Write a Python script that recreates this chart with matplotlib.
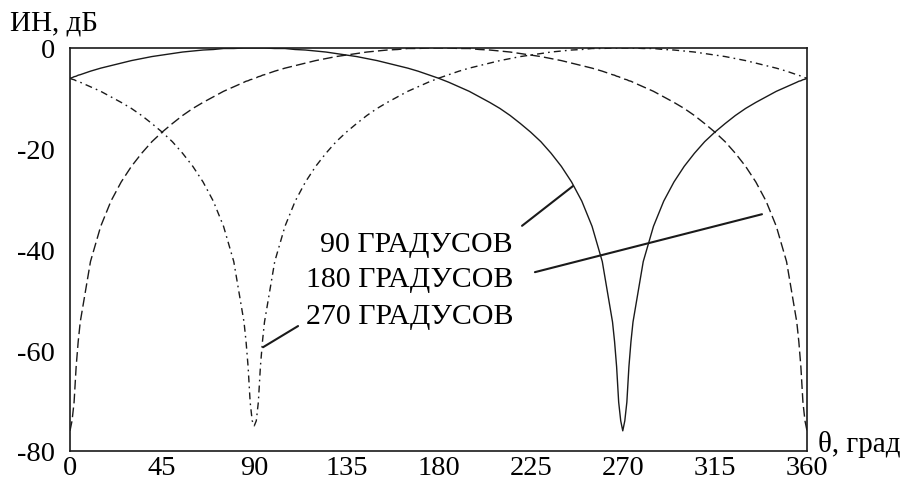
import matplotlib
matplotlib.use("Agg")
import matplotlib.pyplot as plt

plt.rcParams['font.family'] = ['Liberation Serif', 'DejaVu Serif']
plt.rcParams['axes.unicode_minus'] = False

# angle grid, degrees (denser near the nulls)
theta = [0, 1, 2, 3, 4, 5, 10, 15, 20, 25, 30, 35, 40, 45, 50, 55, 60, 65, 70, 75,
         80, 85, 86, 87, 88, 89, 90, 91, 92, 93, 94, 95, 100, 105, 110, 115, 120,
         125, 130, 135, 140, 145, 150, 155, 160, 165, 170, 175, 180, 185, 190, 195,
         200, 205, 210, 215, 220, 225, 230, 235, 240, 245, 250, 255, 260, 265, 266,
         267, 268, 269, 270, 271, 272, 273, 274, 275, 280, 285, 290, 295, 300, 305,
         310, 315, 320, 325, 330, 335, 340, 345, 350, 355, 356, 357, 358, 359, 360]

# pattern, dB - maximum at 90 deg
db_90 = [-6.0, -5.9, -5.7, -5.6, -5.4, -5.3, -4.6, -4.0, -3.5, -3.0, -2.5, -2.1, -1.7,
         -1.4, -1.1, -0.8, -0.6, -0.4, -0.3, -0.1, -0.1, 0.0, 0.0, 0.0, 0.0, 0.0, 0.0,
         0.0, 0.0, 0.0, 0.0, 0.0, -0.1, -0.1, -0.3, -0.4, -0.6, -0.8, -1.1, -1.4, -1.7,
         -2.1, -2.5, -3.0, -3.5, -4.0, -4.6, -5.3, -6.0, -6.8, -7.7, -8.6, -9.7, -10.8,
         -12.0, -13.4, -15.0, -16.7, -18.6, -20.9, -23.5, -26.6, -30.4, -35.4, -42.4,
         -54.4, -58.3, -63.3, -70.3, -74.0, -76.0, -74.0, -70.3, -63.3, -58.3, -54.4,
         -42.4, -35.4, -30.4, -26.6, -23.5, -20.9, -18.6, -16.7, -15.0, -13.4, -12.0,
         -10.8, -9.7, -8.6, -7.7, -6.8, -6.6, -6.5, -6.3, -6.2, -6.0]

# maximum at 180 deg
db_180 = [-76.0, -74.0, -70.3, -63.3, -58.3, -54.4, -42.4, -35.4, -30.4, -26.6, -23.5,
          -20.9, -18.6, -16.7, -15.0, -13.4, -12.0, -10.8, -9.7, -8.6, -7.7, -6.8,
          -6.6, -6.5, -6.3, -6.2, -6.0, -5.9, -5.7, -5.6, -5.4, -5.3, -4.6, -4.0, -3.5,
          -3.0, -2.5, -2.1, -1.7, -1.4, -1.1, -0.8, -0.6, -0.4, -0.3, -0.1, -0.1, 0.0,
          0.0, 0.0, -0.1, -0.1, -0.3, -0.4, -0.6, -0.8, -1.1, -1.4, -1.7, -2.1, -2.5,
          -3.0, -3.5, -4.0, -4.6, -5.3, -5.4, -5.6, -5.7, -5.9, -6.0, -6.2, -6.3, -6.5,
          -6.6, -6.8, -7.7, -8.6, -9.7, -10.8, -12.0, -13.4, -15.0, -16.7, -18.6, -20.9,
          -23.5, -26.6, -30.4, -35.4, -42.4, -54.4, -58.3, -63.3, -70.3, -74.0, -76.0]

# maximum at 270 deg
db_270 = [-6.0, -6.2, -6.3, -6.5, -6.6, -6.8, -7.7, -8.6, -9.7, -10.8, -12.0, -13.4,
          -15.0, -16.7, -18.6, -20.9, -23.5, -26.6, -30.4, -35.4, -42.4, -54.4, -58.3,
          -63.3, -70.3, -74.0, -75.0, -74.0, -70.3, -63.3, -58.3, -54.4, -42.4, -35.4,
          -30.4, -26.6, -23.5, -20.9, -18.6, -16.7, -15.0, -13.4, -12.0, -10.8, -9.7,
          -8.6, -7.7, -6.8, -6.0, -5.3, -4.6, -4.0, -3.5, -3.0, -2.5, -2.1, -1.7, -1.4,
          -1.1, -0.8, -0.6, -0.4, -0.3, -0.1, -0.1, 0.0, 0.0, 0.0, 0.0, 0.0, 0.0, 0.0,
          0.0, 0.0, 0.0, 0.0, -0.1, -0.1, -0.3, -0.4, -0.6, -0.8, -1.1, -1.4, -1.7,
          -2.1, -2.5, -3.0, -3.5, -4.0, -4.6, -5.3, -5.4, -5.6, -5.7, -5.9, -6.0]

x_ticks = [0, 45, 90, 135, 180, 225, 270, 315, 360]
y_ticks = [0, -20, -40, -60, -80]
labels = ["90 ГРАДУСОВ", "180 ГРАДУСОВ", "270 ГРАДУСОВ"]

fig = plt.figure(figsize=(9.02, 4.89), dpi=100)
ax = fig.add_axes([0.0776, 0.0757, 0.8171, 0.8241])

ax.plot(theta, db_90, color='#1a1a1a', lw=1.0, ls='-')
ax.plot(theta, db_180, color='#1a1a1a', lw=1.0, ls=(0, (7, 3)))
ax.plot(theta, db_270, color='#1a1a1a', lw=1.0, ls=(0, (5, 3, 1.2, 3)))

ax.set_xlim(0, 360)
ax.set_ylim(-80, 0)
ax.set_xticks(x_ticks)
ax.set_yticks(y_ticks)
ax.tick_params(length=0, labelsize=20.5)
ax.tick_params(axis='y', pad=11)
ax.tick_params(axis='x', pad=3)
for s in ax.spines.values():
    s.set_linewidth(1.2)
    s.set_color('#1a1a1a')

# labels with leader lines
ax.text(216.4, -38.9, labels[0], ha='right', va='center', fontsize=21.5)
ax.text(216.4, -45.9, labels[1], ha='right', va='center', fontsize=21.5)
ax.text(216.4, -53.2, labels[2], ha='right', va='center', fontsize=21.5)
leader = dict(arrowstyle='-', lw=1.5, color='#1a1a1a', shrinkA=0, shrinkB=0)
ax.annotate('', xy=(245.7, -27.4), xytext=(220.8, -35.3), arrowprops=leader)
ax.annotate('', xy=(338.0, -33.0), xytext=(227.1, -44.5), arrowprops=leader)
ax.annotate('', xy=(94.3, -59.4), xytext=(111.4, -55.2), arrowprops=leader)

fig.text(10 / 902, 1 - 24 / 489, "ИН, дБ", ha='left', va='center', fontsize=21)
fig.text(818 / 902, 1 - 445 / 489, "θ, град", ha='left', va='center', fontsize=21)

fig.savefig('out.png', dpi=100)
